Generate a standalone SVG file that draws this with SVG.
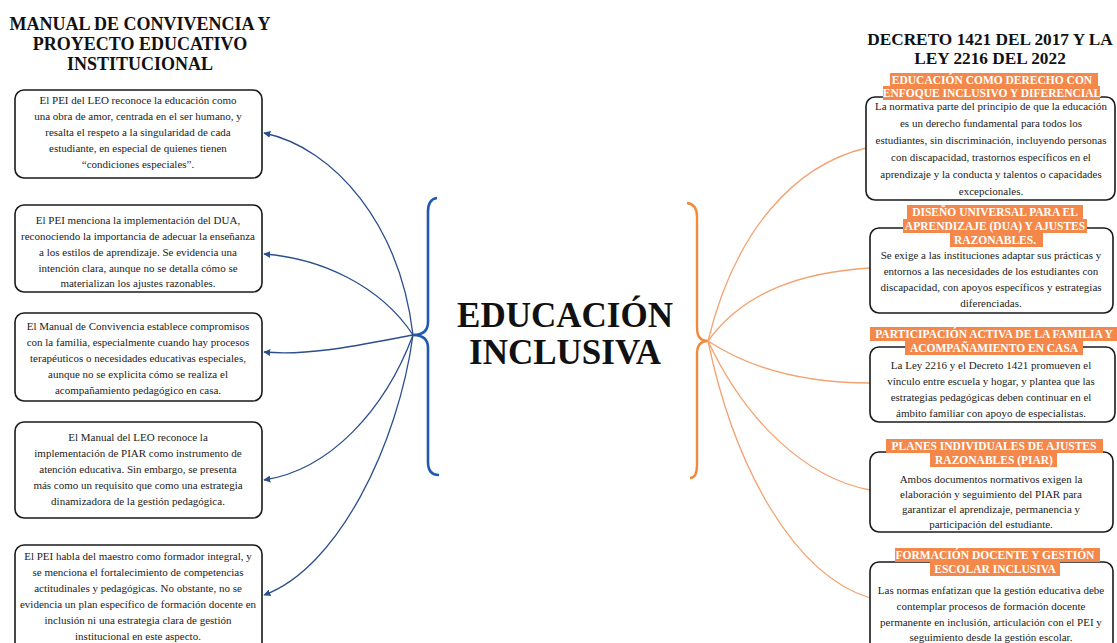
<svg xmlns="http://www.w3.org/2000/svg" width="1117" height="643" viewBox="0 0 1117 643">
<style>
  .hdr{font-family:"Liberation Serif","Times New Roman",serif;font-weight:bold;font-size:18px;fill:#111;text-anchor:middle}
  .hdr2{font-family:"Liberation Serif","Times New Roman",serif;font-weight:bold;font-size:17.3px;fill:#111;text-anchor:middle}
  .title{font-family:"Liberation Serif","Times New Roman",serif;font-weight:bold;font-size:35px;fill:#111;text-anchor:middle}
  .box{fill:#fff;stroke:#1a1a1a;stroke-width:1.6}
  .txt{font-family:"Liberation Serif","Times New Roman",serif;font-size:11px;fill:#222;text-anchor:middle}
  .lbl{fill:#f4884a}
  .ltxt{font-family:"Liberation Serif","Times New Roman",serif;font-weight:bold;font-size:11.5px;fill:#fff;text-anchor:middle}
  .cb{fill:none;stroke:#2c4f8c;stroke-width:1.3}
  .co{fill:none;stroke:#f3a272;stroke-width:1.3}
</style>
<defs>
  <marker id="ab" viewBox="0 0 10 10" refX="9" refY="5" markerWidth="7" markerHeight="7" markerUnits="userSpaceOnUse" orient="auto">
    <path d="M0,0 L10,5 L0,10 z" fill="#2c4f8c"/>
  </marker>
</defs>
<rect width="1117" height="643" fill="#fff"/>

<g id="header-left">
  <text class="hdr" x="140" y="30">MANUAL DE CONVIVENCIA Y</text>
  <text class="hdr" x="140" y="50">PROYECTO EDUCATIVO</text>
  <text class="hdr" x="140" y="70">INSTITUCIONAL</text>
</g>
<g id="header-right">
  <text class="hdr2" x="990" y="45">DECRETO 1421 DEL 2017 Y LA</text>
  <text class="hdr2" x="990" y="64">LEY 2216 DEL 2022</text>
</g>

<g id="center">
  <text class="title" x="565" y="327">EDUCACIÓN</text>
  <text class="title" x="565" y="364">INCLUSIVA</text>
  <path d="M437,198 Q428,199 428,212 L428,322 Q428,335 413,335 Q428,335 428,348 L428,462 Q428,475 439,475" fill="none" stroke="#2158b0" stroke-width="2.6"/>
  <path d="M687,203 Q697,204 697,217 L697,328 Q697,341 708,341 Q697,341 697,354 L697,465 Q697,478 690,478" fill="none" stroke="#f08a3c" stroke-width="2.4"/>
</g>

<g id="connectors">
  <path class="cb" d="M413,335 C400,225 335,148 264,133" marker-end="url(#ab)"/>
  <path class="cb" d="M413,335 C380,285 320,258 264,254" marker-end="url(#ab)"/>
  <path class="cb" d="M413,335 C360,345 310,356 264,352" marker-end="url(#ab)"/>
  <path class="cb" d="M413,335 C385,410 330,470 264,480" marker-end="url(#ab)"/>
  <path class="cb" d="M413,335 C398,445 338,568 264,595" marker-end="url(#ab)"/>
  <path class="co" d="M708,341 C735,230 795,165 866,148"/>
  <path class="co" d="M708,341 C745,290 805,272 870,268"/>
  <path class="co" d="M708,341 C755,372 810,383 870,383"/>
  <path class="co" d="M708,341 C745,420 805,478 870,490"/>
  <path class="co" d="M708,341 C735,470 795,575 870,598"/>
</g>

<g id="left-1">
  <rect class="box" x="15" y="90" width="247" height="88" rx="9"/>
  <text class="txt" x="138" y="104">El PEI del LEO reconoce la educación como</text>
  <text class="txt" x="138" y="120">una obra de amor, centrada en el ser humano, y</text>
  <text class="txt" x="138" y="136">resalta el respeto a la singularidad de cada</text>
  <text class="txt" x="138" y="152">estudiante, en especial de quienes tienen</text>
  <text class="txt" x="138" y="168">“condiciones especiales”.</text>
</g>
<g id="left-2">
  <rect class="box" x="15" y="205" width="247" height="87" rx="9"/>
  <text class="txt" x="138" y="224">El PEI menciona la implementación del DUA,</text>
  <text class="txt" x="138" y="240">reconociendo la importancia de adecuar la enseñanza</text>
  <text class="txt" x="138" y="256">a los estilos de aprendizaje. Se evidencia una</text>
  <text class="txt" x="138" y="272">intención clara, aunque no se detalla cómo se</text>
  <text class="txt" x="138" y="287">materializan los ajustes razonables.</text>
</g>
<g id="left-3">
  <rect class="box" x="15" y="313" width="247" height="88" rx="9"/>
  <text class="txt" x="138" y="330">El Manual de Convivencia establece compromisos</text>
  <text class="txt" x="138" y="346">con la familia, especialmente cuando hay procesos</text>
  <text class="txt" x="138" y="362">terapéuticos o necesidades educativas especiales,</text>
  <text class="txt" x="138" y="378">aunque no se explicita cómo se realiza el</text>
  <text class="txt" x="138" y="394">acompañamiento pedagógico en casa.</text>
</g>
<g id="left-4">
  <rect class="box" x="15" y="422" width="247" height="96" rx="9"/>
  <text class="txt" x="138" y="441">El Manual del LEO reconoce la</text>
  <text class="txt" x="138" y="457">implementación de PIAR como instrumento de</text>
  <text class="txt" x="138" y="473">atención educativa. Sin embargo, se presenta</text>
  <text class="txt" x="138" y="489">más como un requisito que como una estrategia</text>
  <text class="txt" x="138" y="505">dinamizadora de la gestión pedagógica.</text>
</g>
<g id="left-5">
  <rect class="box" x="15" y="545" width="247" height="110" rx="9"/>
  <text class="txt" x="138" y="560">El PEI habla del maestro como formador integral, y</text>
  <text class="txt" x="138" y="576">se menciona el fortalecimiento de competencias</text>
  <text class="txt" x="138" y="592">actitudinales y pedagógicas. No obstante, no se</text>
  <text class="txt" x="138" y="608">evidencia un plan específico de formación docente en</text>
  <text class="txt" x="138" y="624">inclusión ni una estrategia clara de gestión</text>
  <text class="txt" x="138" y="640">institucional en este aspecto.</text>
</g>

<g id="right-1">
  <rect class="box" x="866" y="97" width="249" height="103" rx="9"/>
  <rect class="lbl" x="890" y="73" width="208" height="14"/>
  <rect class="lbl" x="883" y="86" width="217" height="14"/>
  <text class="ltxt" x="992" y="84">EDUCACIÓN COMO DERECHO CON</text>
  <text class="ltxt" x="992" y="97">ENFOQUE INCLUSIVO Y DIFERENCIAL</text>
  <text class="txt" x="991" y="110">La normativa parte del principio de que la educación</text>
  <text class="txt" x="991" y="127">es un derecho fundamental para todos los</text>
  <text class="txt" x="991" y="144">estudiantes, sin discriminación, incluyendo personas</text>
  <text class="txt" x="991" y="161">con discapacidad, trastornos específicos en el</text>
  <text class="txt" x="991" y="178">aprendizaje y la conducta y talentos o capacidades</text>
  <text class="txt" x="991" y="195">excepcionales.</text>
</g>
<g id="right-2">
  <rect class="box" x="870" y="228" width="243" height="85" rx="9"/>
  <rect class="lbl" x="907" y="205" width="176" height="14"/>
  <rect class="lbl" x="903" y="219" width="184" height="14"/>
  <rect class="lbl" x="950" y="233" width="93" height="14"/>
  <text class="ltxt" x="995" y="216">DISEÑO UNIVERSAL PARA EL</text>
  <text class="ltxt" x="995" y="230">APRENDIZAJE (DUA) Y AJUSTES</text>
  <text class="ltxt" x="995" y="244">RAZONABLES.</text>
  <text class="txt" x="991" y="259">Se exige a las instituciones adaptar sus prácticas y</text>
  <text class="txt" x="991" y="275">entornos a las necesidades de los estudiantes con</text>
  <text class="txt" x="991" y="291">discapacidad, con apoyos específicos y estrategias</text>
  <text class="txt" x="991" y="307">diferenciadas.</text>
</g>
<g id="right-3">
  <rect class="box" x="870" y="347" width="245" height="75" rx="9"/>
  <rect class="lbl" x="870" y="327" width="247" height="14"/>
  <rect class="lbl" x="905" y="341" width="178" height="14"/>
  <text class="ltxt" x="994" y="338">PARTICIPACIÓN ACTIVA DE LA FAMILIA Y</text>
  <text class="ltxt" x="994" y="352">ACOMPAÑAMIENTO EN CASA</text>
  <text class="txt" x="991" y="369">La Ley 2216 y el Decreto 1421 promueven el</text>
  <text class="txt" x="991" y="385">vínculo entre escuela y hogar, y plantea que las</text>
  <text class="txt" x="991" y="401">estrategias pedagógicas deben continuar en el</text>
  <text class="txt" x="991" y="417">ámbito familiar con apoyo de especialistas.</text>
</g>
<g id="right-4">
  <rect class="box" x="870" y="452" width="243" height="80" rx="9"/>
  <rect class="lbl" x="886" y="439" width="217" height="14"/>
  <rect class="lbl" x="930" y="453" width="127" height="14"/>
  <text class="ltxt" x="994" y="450">PLANES INDIVIDUALES DE AJUSTES</text>
  <text class="ltxt" x="994" y="464">RAZONABLES (PIAR)</text>
  <text class="txt" x="991" y="483">Ambos documentos normativos exigen la</text>
  <text class="txt" x="991" y="498">elaboración y seguimiento del PIAR para</text>
  <text class="txt" x="991" y="513">garantizar el aprendizaje, permanencia y</text>
  <text class="txt" x="991" y="528">participación del estudiante.</text>
</g>
<g id="right-5">
  <rect class="box" x="870" y="562" width="243" height="95" rx="9"/>
  <rect class="lbl" x="895" y="548" width="205" height="14"/>
  <rect class="lbl" x="930" y="562" width="130" height="14"/>
  <text class="ltxt" x="995" y="559">FORMACIÓN DOCENTE Y GESTIÓN</text>
  <text class="ltxt" x="995" y="573">ESCOLAR INCLUSIVA</text>
  <text class="txt" x="991" y="594">Las normas enfatizan que la gestión educativa debe</text>
  <text class="txt" x="991" y="610">contemplar procesos de formación docente</text>
  <text class="txt" x="991" y="626">permanente en inclusión, articulación con el PEI y</text>
  <text class="txt" x="991" y="641">seguimiento desde la gestión escolar.</text>
</g>
</svg>
